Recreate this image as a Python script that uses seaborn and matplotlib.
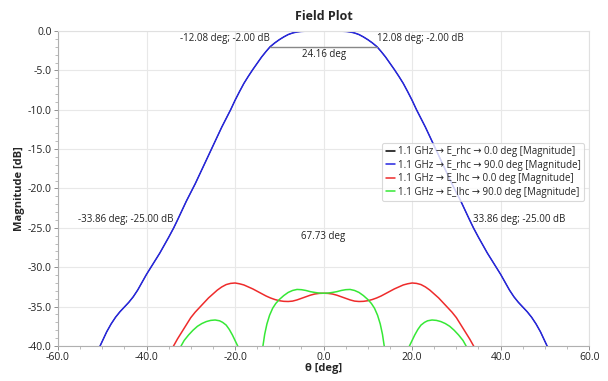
import numpy as np
import pandas as pd
import seaborn as sns
import matplotlib.pyplot as plt
from matplotlib.ticker import MultipleLocator

# E_rhc pattern (same for 0 and 90 deg cuts)
rhc_theta = [-51.5, -50.5, -50.0, -49.0, -48.0, -47.0, -46.0, -45.0, -44.0, -43.0, -42.0,
             -41.0, -40.0, -39.0, -38.0, -37.0, -36.0, -35.0, -33.86, -33.0, -32.0, -31.0,
             -30.0, -29.0, -28.0, -27.0, -26.0, -25.0, -24.0, -23.0, -22.0, -21.0, -20.0,
             -19.0, -18.0, -17.0, -16.0, -15.0, -14.0, -13.0, -12.08, -11.0, -10.0, -9.0,
             -8.0, -7.0, -6.0, -5.0, -4.0, -2.0, 0.0, 2.0, 4.0, 5.0, 6.0, 7.0, 8.0, 9.0,
             10.0, 11.0, 12.08, 13.0, 14.0, 15.0, 16.0, 17.0, 18.0, 19.0, 20.0, 21.0, 22.0,
             23.0, 24.0, 25.0, 26.0, 27.0, 28.0, 29.0, 30.0, 31.0, 32.0, 33.0, 33.86, 35.0,
             36.0, 37.0, 38.0, 39.0, 40.0, 41.0, 42.0, 43.0, 44.0, 45.0, 46.0, 47.0, 48.0,
             49.0, 50.0, 50.5, 51.5]
rhc_mag = [-41.3, -40.0, -39.4, -38.2, -37.2, -36.35, -35.65, -35.05, -34.45, -33.75, -32.9,
           -31.9, -30.9, -30.0, -29.1, -28.2, -27.2, -26.2, -25.0, -24.0, -22.8, -21.6,
           -20.5, -19.4, -18.2, -17.0, -15.8, -14.6, -13.4, -12.2, -11.1, -10.0, -8.8,
           -7.7, -6.65, -5.75, -4.9, -4.1, -3.3, -2.6, -2.0, -1.5, -1.1, -0.75,
           -0.45, -0.25, -0.12, -0.05, -0.02, 0.0, 0.0, 0.0, -0.02, -0.05, -0.12, -0.25, -0.45, -0.75,
           -1.1, -1.5, -2.0, -2.6, -3.3, -4.1, -4.9, -5.75, -6.65, -7.7, -8.8, -10.0, -11.1,
           -12.2, -13.4, -14.6, -15.8, -17.0, -18.2, -19.4, -20.5, -21.6, -22.8, -24.0, -25.0, -26.2,
           -27.2, -28.2, -29.1, -30.0, -30.9, -31.9, -32.9, -33.75, -34.45, -35.05, -35.65, -36.35, -37.2,
           -38.2, -39.4, -40.0, -41.3]

# E_lhc 0 deg cut
lhc0_theta = [-34.5, -33.9, -33.0, -32.0, -31.0, -30.0, -29.0, -28.0, -27.0, -26.0, -25.0,
              -24.0, -23.0, -22.0, -21.0, -20.0, -19.0, -18.0, -17.0, -16.0, -15.0, -14.0,
              -13.0, -12.0, -11.0, -10.0, -9.0, -8.0, -7.0, -6.0, -5.0, -4.0, -3.0, -2.0,
              -1.0, 0.0, 1.0, 2.0, 3.0, 4.0, 5.0, 6.0, 7.0, 8.0, 9.0, 10.0, 11.0, 12.0, 13.0,
              14.0, 15.0, 16.0, 17.0, 18.0, 19.0, 20.0, 21.0, 22.0, 23.0, 24.0, 25.0, 26.0,
              27.0, 28.0, 29.0, 30.0, 31.0, 32.0, 33.0, 33.9, 34.5]
lhc0_mag = [-41.0, -40.0, -39.1, -38.2, -37.3, -36.4, -35.7, -35.1, -34.5, -33.9, -33.4,
            -32.9, -32.5, -32.2, -32.05, -32.0, -32.1, -32.25, -32.5, -32.75, -33.05, -33.35,
            -33.65, -33.9, -34.1, -34.25, -34.33, -34.35, -34.3, -34.15, -33.95, -33.75, -33.55, -33.4,
            -33.32, -33.3, -33.32, -33.4, -33.55, -33.75, -33.95, -34.15, -34.3, -34.35, -34.33, -34.25, -34.1, -33.9, -33.65,
            -33.35, -33.05, -32.75, -32.5, -32.25, -32.1, -32.0, -32.05, -32.2, -32.5, -32.9, -33.4, -33.9,
            -34.5, -35.1, -35.7, -36.4, -37.3, -38.2, -39.1, -40.0, -41.0]

# E_lhc 90 deg cut: two side lobes and a main lobe
lhc90_side_l_theta = [-32.8, -32.2, -31.5, -30.5, -29.5, -28.5, -27.5, -26.5, -25.5, -24.5,
                      -23.5, -22.8, -22.0, -21.3, -20.6, -20.0, -19.4, -19.1]
lhc90_side_l_mag = [-41.0, -40.0, -39.3, -38.6, -38.0, -37.5, -37.15, -36.9, -36.75, -36.7,
                    -36.8, -37.0, -37.35, -37.9, -38.6, -39.3, -40.0, -40.8]
lhc90_main_theta = [-14.0, -13.7, -13.3, -12.8, -12.2, -11.5, -10.8, -10.0, -9.0, -8.0, -7.0,
                    -6.0, -5.0, -4.0, -3.0, -2.0, -1.0, 0.0, 1.0, 2.0, 3.0, 4.0, 5.0, 6.0,
                    7.0, 8.0, 9.0, 10.0, 10.8, 11.5, 12.2, 12.8, 13.3, 13.7, 14.0]
lhc90_main_mag = [-41.0, -40.0, -38.5, -37.2, -36.1, -35.2, -34.6, -34.1, -33.6, -33.2, -32.95,
                  -32.82, -32.85, -32.95, -33.1, -33.2, -33.28, -33.3, -33.28, -33.2, -33.1, -32.95, -32.85, -32.82,
                  -32.95, -33.2, -33.6, -34.1, -34.6, -35.2, -36.1, -37.2, -38.5, -40.0, -41.0]
lhc90_side_r_theta = [19.1, 19.4, 20.0, 20.6, 21.3, 22.0, 22.8, 23.5, 24.5, 25.5, 26.5,
                      27.5, 28.5, 29.5, 30.5, 31.5, 32.2, 32.8]
lhc90_side_r_mag = [-40.8, -40.0, -39.3, -38.6, -37.9, -37.35, -37.0, -36.8, -36.7, -36.75, -36.9,
                    -37.15, -37.5, -38.0, -38.6, -39.3, -40.0, -41.0]

series_names = ["1.1 GHz \u2192 E_rhc \u2192 0.0 deg [Magnitude]",
                "1.1 GHz \u2192 E_rhc \u2192 90.0 deg [Magnitude]",
                "1.1 GHz \u2192 E_lhc \u2192 0.0 deg [Magnitude]",
                "1.1 GHz \u2192 E_lhc \u2192 90.0 deg [Magnitude]"]
series_colors = ["#000000", "#2626e0", "#ee2b2b", "#36e836"]

frames = []
def add(name, seg, th, mg):
    frames.append(pd.DataFrame({"theta": th, "mag": mg, "series": name, "seg": seg}))

add(series_names[0], "a", rhc_theta, rhc_mag)
add(series_names[1], "b", rhc_theta, rhc_mag)
add(series_names[2], "c", lhc0_theta, lhc0_mag)
add(series_names[3], "d1", lhc90_side_l_theta, lhc90_side_l_mag)
add(series_names[3], "d2", lhc90_main_theta, lhc90_main_mag)
add(series_names[3], "d3", lhc90_side_r_theta, lhc90_side_r_mag)
df = pd.concat(frames, ignore_index=True)

sns.set_theme(style="white")
plt.rcParams["font.family"] = ["Open Sans", "DejaVu Sans"]

fig = plt.figure(figsize=(6.08, 3.81), dpi=100)
ax = fig.add_axes([0.0954, 0.0919, 0.8736, 0.8267])

sns.lineplot(data=df, x="theta", y="mag", hue="series", hue_order=series_names,
             palette=dict(zip(series_names, series_colors)), units="seg",
             estimator=None, sort=False, linewidth=1.1, ax=ax)
# black curve sits under the blue one, keep it thinner so it doesn't bleed
ax.lines[0].set_linewidth(0.6)

ax.set_xlim(-60, 60)
ax.set_ylim(-40, 0)
ax.xaxis.set_major_locator(MultipleLocator(20))
ax.xaxis.set_minor_locator(MultipleLocator(5))
ax.yaxis.set_major_locator(MultipleLocator(5))
ax.yaxis.set_minor_locator(MultipleLocator(1))
ax.xaxis.set_major_formatter(plt.FuncFormatter(lambda v, p: f"{v:.1f}"))
ax.yaxis.set_major_formatter(plt.FuncFormatter(lambda v, p: f"{v:.1f}"))
ax.grid(True, which="major", color="#e8e8e8", linewidth=0.8)
ax.set_axisbelow(True)
for s in ax.spines.values():
    s.set_color("#e0e0e0")
    s.set_linewidth(0.8)
ax.spines["left"].set_color("#b0b0b0")
ax.spines["bottom"].set_color("#b0b0b0")
ax.tick_params(which="major", direction="out", length=3, width=0.7, color="#909090",
               labelsize=7.5, labelcolor="#222222", pad=1.5, left=True, bottom=True)
ax.tick_params(which="minor", direction="out", length=2, width=0.6, color="#b0b0b0",
               left=True, bottom=True)

ax.set_title("Field Plot", fontsize=9, fontweight="bold", pad=8)
ax.set_xlabel("\u03b8 [deg]", fontsize=8, fontweight="bold", labelpad=0)
ax.set_ylabel("Magnitude [dB]", fontsize=8, fontweight="bold", labelpad=2)

# beamwidth markers
ax.plot([-12.08, 12.08], [-2, -2], color="#888888", linewidth=1.0)
ann = dict(fontsize=7, color="#222222")
ax.text(-12.08, -1.0, "-12.08 deg; -2.00 dB", ha="right", va="center", **ann)
ax.text(12.08, -1.0, "12.08 deg; -2.00 dB", ha="left", va="center", **ann)
ax.text(0, -3.0, "24.16 deg", ha="center", va="center", **ann)
ax.text(-33.86, -24.0, "-33.86 deg; -25.00 dB", ha="right", va="center", **ann)
ax.text(33.86, -24.0, "33.86 deg; -25.00 dB", ha="left", va="center", **ann)
ax.text(0, -26.1, "67.73 deg", ha="center", va="center", **ann)

handles, labels = ax.get_legend_handles_labels()
leg = ax.legend(handles, labels, loc="upper right", bbox_to_anchor=(0.99, 0.645),
                fontsize=7, frameon=True, fancybox=True, handlelength=0.9,
                handletextpad=0.3, borderpad=0.35, labelspacing=0.25, borderaxespad=0)
leg.get_frame().set_edgecolor("#d0d0d0")
leg.get_frame().set_linewidth(0.8)
for h in leg.legend_handles:
    h.set_linewidth(1.1)

fig.savefig("out.png", dpi=100)
